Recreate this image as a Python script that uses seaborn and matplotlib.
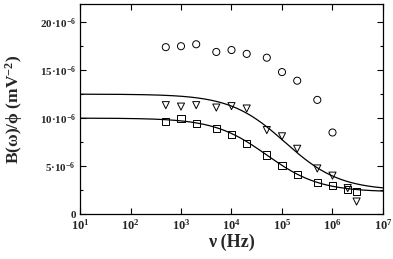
import numpy as np
import pandas as pd
import matplotlib
matplotlib.use("Agg")
import matplotlib.pyplot as plt
from matplotlib.ticker import FixedLocator, LogLocator, NullFormatter
import seaborn as sns

sns.set_theme(style="ticks")
plt.rcParams['font.family'] = ['Liberation Serif', 'DejaVu Serif']
plt.rcParams['font.weight'] = 'bold'
plt.rcParams['mathtext.fontset'] = 'custom'
plt.rcParams['mathtext.rm'] = 'Liberation Serif:bold'
plt.rcParams['mathtext.it'] = 'Liberation Serif:bold'
plt.rcParams['mathtext.bf'] = 'Liberation Serif:bold'

# measured points (frequency in Hz, B/phi in 1e-6 mV^-2)
freq_circle = [500, 1e3, 2e3, 5e3, 1e4, 2e4, 5e4, 1e5, 2e5, 5e5, 1e6]
val_circle = [17.4, 17.5, 17.7, 16.9, 17.1, 16.7, 16.3, 14.8, 13.9, 11.9, 8.5]

freq_tri = [500, 1e3, 2e3, 5e3, 1e4, 2e4, 5e4, 1e5, 2e5, 5e5, 1e6, 2e6, 3e6]
val_tri = [11.35, 11.2, 11.35, 11.1, 11.25, 11.0, 8.75, 8.1, 6.8, 4.75, 4.0, 2.7, 1.3]

freq_sq = [500, 1e3, 2e3, 5e3, 1e4, 2e4, 5e4, 1e5, 2e5, 5e5, 1e6, 2e6, 3e6]
val_sq = [9.6, 10.0, 9.4, 8.9, 8.3, 7.4, 6.15, 5.1, 4.1, 3.3, 3.0, 2.55, 2.35]

# fitted relaxation curves: B0, Binf, fc, alpha
fit_upper = (12.5, 2.45, 1.15e5, 0.8)
fit_lower = (10.0, 2.3, 5.0e4, 0.83)

ytick_vals = [0, 5, 10, 15, 20]
ytick_labels = ["0", "5·10$^{-6}$", "10·10$^{-6}$", "15·10$^{-6}$", "20·10$^{-6}$"]
xtick_vals = [1e1, 1e2, 1e3, 1e4, 1e5, 1e6, 1e7]
xtick_labels = ["10$^{1}$", "10$^{2}$", "10$^{3}$", "10$^{4}$", "10$^{5}$", "10$^{6}$", "10$^{7}$"]


def relax(f, b0, binf, fc, a):
    return binf + (b0 - binf) / (1 + (f / fc) ** a)


fgrid = np.logspace(1, 7, 300)
curves = pd.concat([
    pd.DataFrame({'f': fgrid, 'B': relax(fgrid, *fit_upper), 'fit': 'upper'}),
    pd.DataFrame({'f': fgrid, 'B': relax(fgrid, *fit_lower), 'fit': 'lower'}),
])

fig = plt.figure(figsize=(3.93, 2.59), dpi=100)
ax = fig.add_axes([80 / 393, 45 / 259, 303 / 393, 210 / 259])

sns.lineplot(data=curves, x='f', y='B', units='fit', estimator=None,
             color='black', lw=0.9, ax=ax)

mk = dict(facecolors='none', edgecolors='black', linewidths=0.7, s=26, zorder=3)
ax.scatter(freq_circle, val_circle, marker='o', **mk)
ax.scatter(freq_tri, val_tri, marker='v', **mk)
ax.scatter(freq_sq, val_sq, marker='s', **mk)

ax.set_xscale('log')
ax.set_xlim(1e1, 1e7)
ax.set_ylim(0, 21.9)
ax.set_xticks(xtick_vals)
ax.set_xticklabels(xtick_labels, fontsize=9)
ax.xaxis.set_minor_locator(LogLocator(base=10, subs=np.arange(2, 10)))
ax.xaxis.set_minor_formatter(NullFormatter())
ax.set_yticks(ytick_vals)
ax.set_yticklabels(ytick_labels, fontsize=8)
ax.yaxis.set_minor_locator(FixedLocator([2.5, 7.5, 12.5, 17.5]))

ax.tick_params(which='both', direction='in', top=True, right=True, width=0.8, color='black')
ax.tick_params(which='major', length=4, pad=3)
ax.tick_params(which='minor', length=2)
for s in ax.spines.values():
    s.set_color('black')
    s.set_linewidth(0.9)

ax.set_xlabel("ν (Hz)", fontsize=13, fontweight='bold', labelpad=1)
ax.set_ylabel("B(ω)/ϕ (mV$^{-2}$)", fontsize=12.5, fontweight='bold')
ax.yaxis.set_label_coords(-0.18, 0.5)

fig.savefig('out.png', dpi=100)
